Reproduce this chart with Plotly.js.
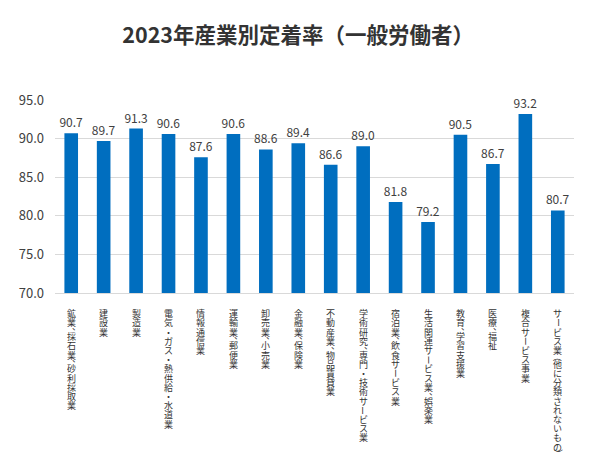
<!DOCTYPE html>
<html>
<head>
<meta charset="utf-8">
<script src="https://cdn.plot.ly/plotly-3.0.1.min.js"></script>
<style>html,body{margin:0;padding:0;background:#fff;}#chart{width:600px;height:475px;}</style>
</head>
<body>
<div id="chart"></div>
<script>
const categories = [
  "鉱業、採石業、砂利採取業",
  "建設業",
  "製造業",
  "電気・ガス・熱供給・水道業",
  "情報通信業",
  "運輸業、郵便業",
  "卸売業、小売業",
  "金融業、保険業",
  "不動産業、物品賃貸業",
  "学術研究、専門・技術サービス業",
  "宿泊業、飲食サービス業",
  "生活関連サービス業、娯楽業",
  "教育、学習支援業",
  "医療、福祉",
  "複合サービス事業",
  "サービス業（他に分類されないもの）"
];
const rates = [90.7, 89.7, 91.3, 90.6, 87.6, 90.6, 88.6, 89.4, 86.6, 89.0, 81.8, 79.2, 90.5, 86.7, 93.2, 80.7];
const yTicks = [70, 75, 80, 85, 90, 95];
const titleText = "2023年産業別定着率（一般労働者）";

const FONT = '"Noto Sans CJK JP", "Noto Sans", sans-serif';

// stacked (tategaki) category labels: one upright character per annotation
const rotateChars = new Set(["ー", "（", "）"]);
const halfChars = new Set(["、", "（", "）"]);

const annotations = [];
const step = 9.2;
const start = 16;
categories.forEach((cat) => {
  let off = 0;
  for (const ch of Array.from(cat)) {
    const half = halfChars.has(ch);
    const adv = half ? step * 0.5 : step;
    const isComma = ch === "、";
    annotations.push({
      x: cat, xref: "x", y: 0, yref: "paper",
      yanchor: "middle", xanchor: "center",
      yshift: -(start + off + adv / 2) + (isComma ? 3 : 0),
      xshift: isComma ? 5 : 0,
      textangle: rotateChars.has(ch) ? 90 : 0,
      text: ch,
      showarrow: false,
      borderpad: 0,
      font: {family: FONT, size: 9, color: "#333333"}
    });
    off += adv;
  }
});

const trace = {
  type: "bar",
  x: categories,
  y: rates,
  marker: {color: "#006EBF"},
  text: rates.map(v => v.toFixed(1)),
  textposition: "outside",
  constraintext: "none",
  textfont: {family: FONT, size: 12, color: "#404040"},
  cliponaxis: false,
  hoverinfo: "x+y"
};

const layout = {
  width: 600, height: 475,
  margin: {l: 55, r: 26, t: 100, b: 182},
  paper_bgcolor: "#ffffff", plot_bgcolor: "#ffffff",
  title: {
    text: "<b>" + titleText + "</b>",
    x: 0.497, xref: "container", xanchor: "center",
    y: 0.926, yref: "container", yanchor: "middle",
    font: {family: FONT, size: 21.5, color: "#333333"}
  },
  bargap: 0.58,
  xaxis: {
    type: "category",
    showticklabels: false,
    showgrid: false,
    showline: true, linecolor: "#d9d9d9", linewidth: 1,
    ticks: ""
  },
  yaxis: {
    range: [70, 95],
    tickvals: yTicks,
    ticktext: yTicks.map(v => v.toFixed(1)),
    showgrid: true, gridcolor: "#d9d9d9", gridwidth: 1,
    zeroline: false, showline: false, ticks: "",
    ticklabelstandoff: 10,
    automargin: false,
    tickfont: {family: FONT, size: 13, color: "#404040"}
  },
  annotations: annotations,
  showlegend: false
};

Plotly.newPlot("chart", [trace], layout, {displayModeBar: false, staticPlot: true});
</script>
</body>
</html>
